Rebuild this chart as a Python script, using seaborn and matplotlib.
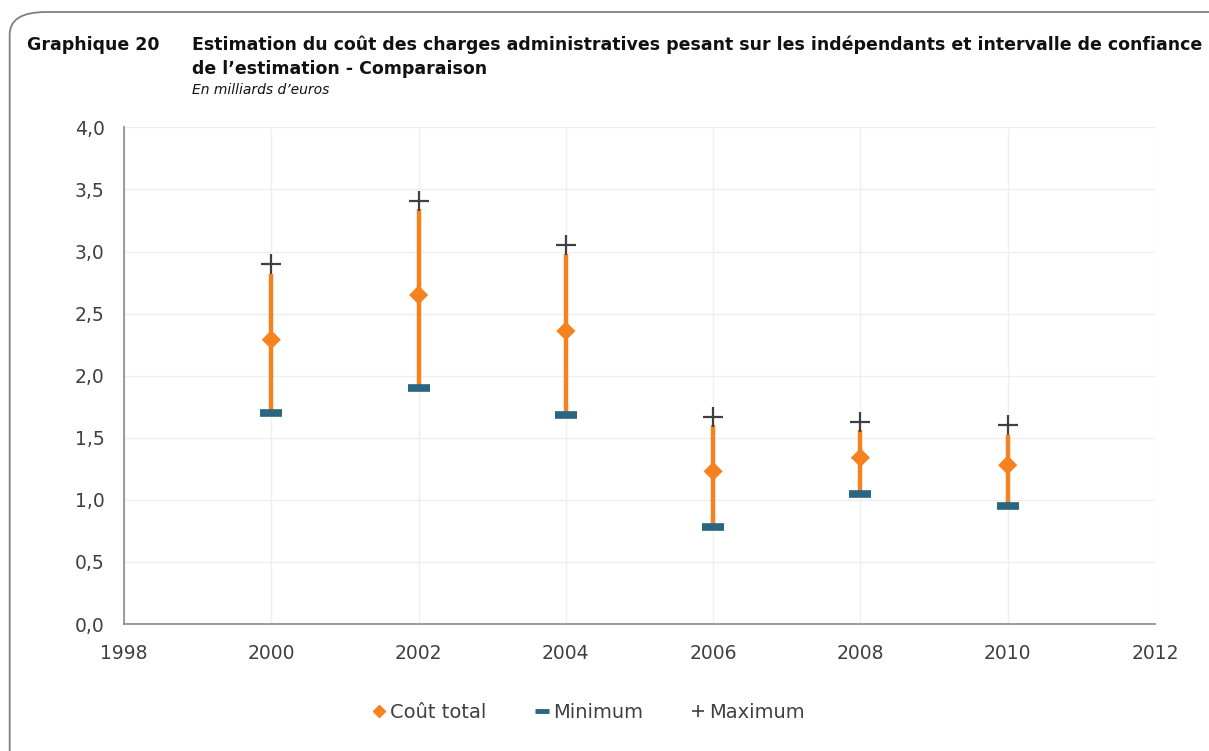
import matplotlib
matplotlib.use("Agg")
import matplotlib.pyplot as plt
import seaborn as sns
import pandas as pd
from matplotlib.lines import Line2D
from matplotlib.patches import FancyBboxPatch
from matplotlib.ticker import FuncFormatter

# --- data (milliards d'euros) ---
years = [2000, 2002, 2004, 2006, 2008, 2010]
cout_total = [2.29, 2.65, 2.36, 1.23, 1.34, 1.28]
minimum = [1.70, 1.90, 1.685, 0.78, 1.05, 0.95]
maximum = [2.90, 3.41, 3.05, 1.67, 1.63, 1.60]
bar_top = [2.82, 3.34, 2.98, 1.60, 1.56, 1.52]

x_ticks = [1998, 2000, 2002, 2004, 2006, 2008, 2010, 2012]
y_ticks = [0.0, 0.5, 1.0, 1.5, 2.0, 2.5, 3.0, 3.5, 4.0]

ORANGE = "#F5821F"
TEAL = "#2B6580"
DARK = "#404040"

df = pd.DataFrame({"annee": years, "cout": cout_total,
                   "min": minimum, "max": maximum})

sns.set_theme(style="white")
plt.rcParams['font.family'] = ['DejaVu Sans']

fig = plt.figure(figsize=(12.09, 7.51), dpi=100)
ax = fig.add_axes([0.1026, 0.169, 0.8527, 0.6614])

# frame around the figure
frame = FancyBboxPatch((0.008, -0.05), 1.05, 1.034, transform=fig.transFigure,
                       boxstyle="round,pad=0,rounding_size=0.03",
                       facecolor="none", edgecolor="#7f7f7f", linewidth=1.3)
fig.patches.append(frame)

# confidence interval bars
ax.vlines(years, minimum, bar_top, color=ORANGE, linewidth=3.2, zorder=2)

sns.scatterplot(data=df, x="annee", y="min", marker="_", s=250,
                color=TEAL, linewidth=5.5, ax=ax, zorder=3)
sns.scatterplot(data=df, x="annee", y="max", marker="+", s=200,
                color=DARK, linewidth=1.6, ax=ax, zorder=3)
sns.scatterplot(data=df, x="annee", y="cout", marker="D", s=95,
                color=ORANGE, edgecolor="none", ax=ax, zorder=4)

ax.set_xlim(1998, 2012)
ax.set_ylim(0, 4)
ax.set_xticks(x_ticks)
ax.set_yticks(y_ticks)
ax.yaxis.set_major_formatter(FuncFormatter(lambda v, p: f"{v:.1f}".replace(".", ",")))
ax.grid(True, color="#efefef", linewidth=1)
ax.set_axisbelow(True)
ax.set_xlabel("")
ax.set_ylabel("")
for side in ["top", "right"]:
    ax.spines[side].set_visible(False)
for side in ["left", "bottom"]:
    ax.spines[side].set_color("#8a8a8a")
    ax.spines[side].set_linewidth(1.2)
ax.tick_params(axis="both", labelsize=13.5, labelcolor=DARK, length=0)
ax.tick_params(axis="y", pad=14)
ax.tick_params(axis="x", pad=14)

# titles
fig.text(0.022, 0.934, "Graphique 20", fontsize=12.5, fontweight="bold", color="#111111")
fig.text(0.159, 0.934,
         "Estimation du coût des charges administratives pesant sur les indépendants et intervalle de confiance",
         fontsize=12.5, fontweight="bold", color="#111111")
fig.text(0.159, 0.902, "de l\u2019estimation - Comparaison",
         fontsize=12.5, fontweight="bold", color="#111111")
fig.text(0.159, 0.875, "En milliards d\u2019euros", fontsize=10, style="italic", color="#111111")

handles = [
    Line2D([], [], marker="D", color=ORANGE, linestyle="none", markersize=6.5),
    Line2D([], [], marker="_", color=TEAL, linestyle="none", markersize=10, markeredgewidth=3.5),
    Line2D([], [], marker="+", color=DARK, linestyle="none", markersize=9, markeredgewidth=1.2),
]
fig.legend(handles, ["Coût total", "Minimum", "Maximum"], loc="center",
           bbox_to_anchor=(0.486, 0.051), ncol=3, frameon=False, fontsize=14,
           labelcolor=DARK, handletextpad=0.1, columnspacing=2.4, handlelength=0.9)

fig.savefig("out.png", dpi=100)
